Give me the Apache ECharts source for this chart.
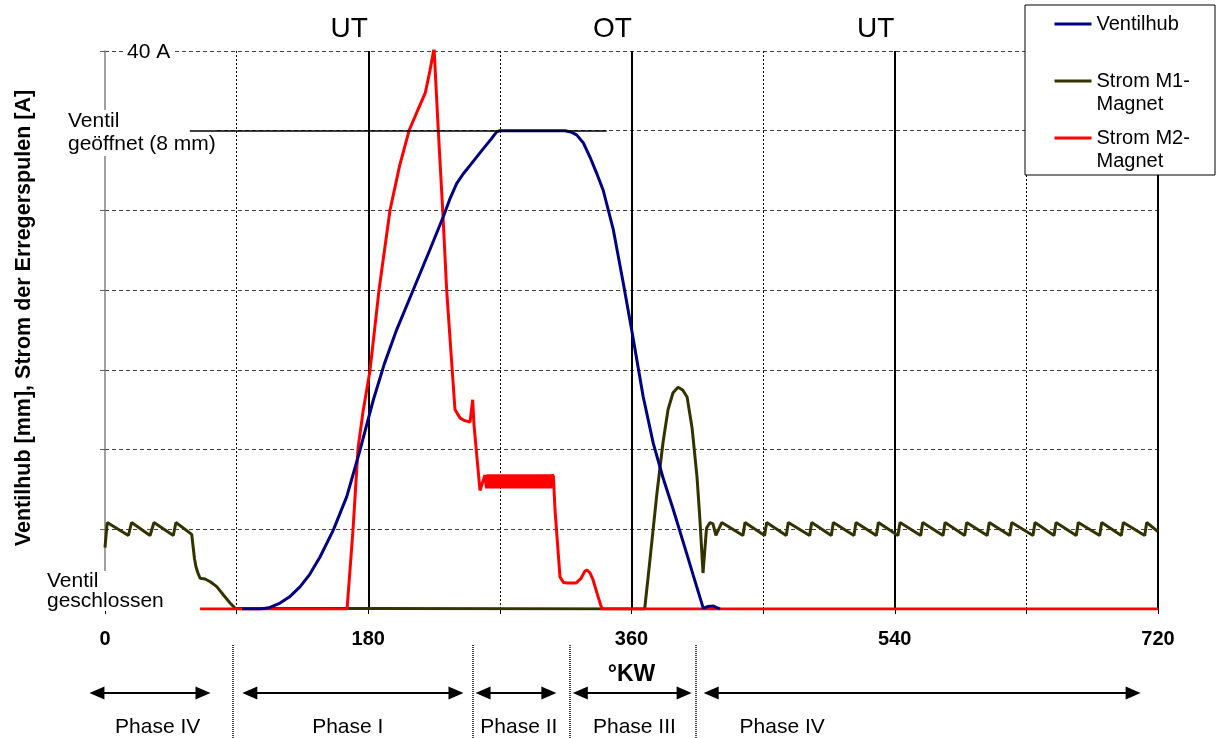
<!DOCTYPE html>
<html>
<head>
    <meta charset="utf-8">
    <title>Ventilhub und Spulenstrom</title>
    <script src="https://cdn.jsdelivr.net/npm/echarts@6/dist/echarts.min.js"></script>
</head>
<body style="margin:0">
<div id="main" style="width: 1224px;height:738px;"></div>
<script type="text/javascript">
    // Kurbelwinkel [°KW], Ventilhub [mm]
    var valveLift = [
        [93.7, 0], [106, 0], [112, 0.02], [119.7, 0.1], [126, 0.2], [133.3, 0.37], [140, 0.58],
        [147, 0.87], [156.1, 1.32], [165.3, 1.88], [174.4, 2.66], [183.5, 3.5], [191, 4.1],
        [199.4, 4.67], [210.8, 5.34], [222, 6.0], [231.3, 6.56], [236, 6.87], [240.5, 7.12],
        [245, 7.28], [249.6, 7.42], [258, 7.68], [264, 7.86], [267.8, 7.98], [270, 8], [314.5, 8],
        [318.5, 7.98], [322.5, 7.93], [327, 7.8], [331.6, 7.56], [336, 7.3], [340.7, 7.0],
        [347.6, 6.34], [354.4, 5.45], [360.1, 4.67], [368, 3.55], [374.9, 2.77], [381.5, 2.2],
        [388.6, 1.66], [397.7, 0.93], [403, 0.5], [409.1, 0.01], [412, 0.04], [416, 0.05], [420.5, 0]
    ];

    // Strom M1-Magnet [A]
    var currentM1 = [
        [0, 4.4], [1.5, 6.2], [16, 5.27], [18.2, 6.2], [30.8, 5.27], [33.5, 6.2], [46.7, 5.27],
        [48.5, 6.2], [59.3, 5.35], [61.2, 3.6], [62.2, 3.03], [63.5, 2.6], [65, 2.2], [68.4, 2.15],
        [72, 1.95], [76.4, 1.6], [81, 1.0], [85.5, 0.43], [89, 0.05], [90, 0], [369, 0],
        [372.6, 3.5], [377.4, 8.3], [381.5, 11.9], [385, 14.3], [388.4, 15.5], [391.8, 15.9],
        [395, 15.7], [398, 15.2], [401.4, 13.0], [404.8, 9.46], [406.8, 6.38], [408.9, 2.58],
        [411.3, 5.8], [413.7, 6.2], [415.7, 6.1], [417.7, 5.27], [421.7, 6.2], [436.2, 5.27],
        [437.6, 6.2], [451, 5.27], [452.4, 6.2], [465.8, 5.27], [467.2, 6.2], [481.8, 5.27],
        [483.2, 6.2], [496.6, 5.27], [498, 6.2], [512.1, 5.27], [513.5, 6.2], [527.4, 5.27],
        [528.8, 6.2], [542.2, 5.27], [543.6, 6.2], [557.7, 5.27], [559.1, 6.2], [573, 5.27],
        [574.4, 6.2], [587.8, 5.27], [589.2, 6.2], [603.2, 5.27], [604.6, 6.2], [618.6, 5.27],
        [620, 6.2], [634.5, 5.27], [635.9, 6.2], [648.9, 5.27], [650.3, 6.2], [664.1, 5.27],
        [665.5, 6.2], [680.1, 5.27], [681.5, 6.2], [694.9, 5.27], [696.3, 6.2], [710.9, 5.27],
        [712.3, 6.2], [720, 5.55]
    ];

    // Strom M2-Magnet [A]
    var currentM2 = [
        [65, 0], [165.5, 0], [169.6, 5.7], [173, 11.5], [176.5, 14.2], [181.2, 17.1], [187.4, 22.9],
        [194.9, 28.6], [201.5, 31.8], [207.9, 34.3], [214, 35.8], [219, 37.0], [222.2, 38.6],
        [225, 40.2], [227.9, 34.3], [230.9, 28.6], [233.6, 22.9], [237.1, 17.6], [239.3, 14.3],
        [242.7, 13.7], [246, 13.5], [249.6, 13.4], [250.7, 13.5], [251.4, 15.0], [252.3, 13.2],
        [256.4, 8.5], [259.8, 9.6],
        [260.8, 8.65], [261.8, 9.65], [262.8, 8.65], [263.8, 9.65], [264.8, 8.65], [265.8, 9.65],
        [266.8, 8.65], [267.8, 9.65], [268.8, 8.65], [269.8, 9.65], [270.8, 8.65], [271.8, 9.65],
        [272.8, 8.65], [273.8, 9.65], [274.8, 8.65], [275.8, 9.65], [276.8, 8.65], [277.8, 9.65],
        [278.8, 8.65], [279.8, 9.65], [280.8, 8.65], [281.8, 9.65], [282.8, 8.65], [283.8, 9.65],
        [284.8, 8.65], [285.8, 9.65], [286.8, 8.65], [287.8, 9.65], [288.8, 8.65], [289.8, 9.65],
        [290.8, 8.65], [291.8, 9.65], [292.8, 8.65], [293.8, 9.65], [294.8, 8.65], [295.8, 9.65],
        [296.8, 8.65], [297.8, 9.65], [298.8, 8.65], [299.8, 9.65], [300.8, 8.65], [301.8, 9.65],
        [302.8, 8.65], [303.8, 9.65], [304.8, 8.65], [305.8, 9.65],
        [306.6, 9.5], [307.7, 7.1], [311.1, 2.3], [313.5, 1.9], [316, 1.86], [322, 1.86],
        [325.5, 2.2], [328, 2.7], [329.6, 2.8], [331.5, 2.6], [333.7, 2.1], [336.5, 1.1],
        [339.8, 0], [720, 0]
    ];

    var bottomTicks = [0, 180, 360, 540, 720];
    var topTicks = [180, 360, 540];
    var topNames = ['UT', 'OT', 'UT'];

    var phaseNames = ['Phase IV', 'Phase I', 'Phase II', 'Phase III', 'Phase IV'];
    var phaseLabelX = [36, 166, 283, 362, 463];
    var phaseArrows = [[-5.5, 67], [99, 240], [258.5, 303.5], [325, 396], [414.5, 703]];
    var phaseBounds = [87.5, 251.6, 318, 404];

    var openLine = [58, 343];   // Ventil geöffnet (8 mm)

    var legendText = {
        'Ventilhub': ' \nVentilhub\n ',
        'Strom M1-Magnet': ' \nStrom M1-\nMagnet',
        'Strom M2-Magnet': ' \nStrom M2-\nMagnet'
    };

    var font = 'Liberation Sans, Arial, sans-serif';
    var myChart = echarts.init(document.getElementById('main'));

    myChart.setOption({
        animation: false,
        textStyle: { fontFamily: font, color: '#000' },
        grid: [
            { left: 105, right: 66, top: 51, height: 558, outerBoundsMode: 'none' },
            // Phasenleiste unten, gleiche Skala wie oben, beginnt bei -70 °KW
            { left: 2.625, right: 66, top: 640, height: 98, outerBoundsMode: 'none' }
        ],
        legend: {
            orient: 'vertical', left: 1053, top: -10.5, padding: 0, itemGap: -12,
            itemWidth: 37, itemHeight: 14, z: 11, selectedMode: false,
            itemStyle: { opacity: 0 },
            lineStyle: { width: 3 },
            data: ['Ventilhub', 'Strom M1-Magnet', 'Strom M2-Magnet'],
            formatter: function (name) { return legendText[name]; },
            textStyle: { fontSize: 20, lineHeight: 23, color: '#000' }
        },
        xAxis: [
            {
                type: 'value', gridIndex: 0, min: 0, max: 720, interval: 90, position: 'bottom',
                axisLine: { show: false },
                axisTick: { show: true, length: 5, lineStyle: { color: '#000' } },
                axisLabel: {
                    margin: 20, fontSize: 20, fontWeight: 'bold', color: '#000',
                    showMinLabel: true, showMaxLabel: true,
                    formatter: function (v) { return bottomTicks.indexOf(v) >= 0 ? String(v) : ''; }
                },
                splitLine: { show: true, showMinLine: false, lineStyle: { color: '#000', type: [2, 2], width: 1 } },
                name: '°KW', nameLocation: 'middle', nameGap: 54,
                nameTextStyle: { fontSize: 23, fontWeight: 'bold', color: '#000' }
            },
            {
                type: 'value', gridIndex: 0, min: 0, max: 720, interval: 180, position: 'top',
                axisLine: { show: false }, axisTick: { show: false },
                axisLabel: {
                    margin: 8, fontSize: 28, color: '#000', padding: [0, 38, 0, 0],
                    formatter: function (v) {
                        var i = topTicks.indexOf(v);
                        return i >= 0 ? topNames[i] : '';
                    }
                },
                splitLine: { show: true, showMinLine: false, lineStyle: { color: '#000', width: 2 } }
            },
            { type: 'value', gridIndex: 1, min: -70, max: 720, show: false }
        ],
        yAxis: [
            {
                type: 'value', gridIndex: 0, min: 0, max: 7, interval: 1,
                axisLine: { show: true, lineStyle: { color: '#808080', width: 1.5 } },
                axisTick: { show: true, length: 5, lineStyle: { color: '#606060' } },
                axisLabel: { show: false },
                splitLine: { show: true, showMinLine: false, lineStyle: { color: '#404040', type: [4, 3] } },
                name: 'Ventilhub [mm], Strom der Erregerspulen [A]',
                nameLocation: 'middle', nameGap: 70,
                nameTextStyle: { fontSize: 21.5, fontWeight: 'bold', color: '#000', padding: [0, 0, 0, 24] }
            },
            { type: 'value', gridIndex: 0, min: 0, max: 40, show: false },
            { type: 'value', gridIndex: 0, min: 0, max: 8 * 7 / 6, show: false },
            { type: 'value', gridIndex: 1, min: 0, max: 1, show: false }
        ],
        graphic: [
            {
                type: 'rect', x: 1025, y: 5, z: 10,
                shape: { width: 190, height: 170 },
                style: { fill: '#fff', stroke: '#000', lineWidth: 1 }
            },
            {
                type: 'text', x: 123, y: 52, z: 1,
                style: {
                    text: '40 A', fontSize: 21, fontFamily: font, fill: '#000',
                    verticalAlign: 'middle', backgroundColor: '#fff', padding: [2, 4]
                }
            },
            {
                type: 'text', x: 68, y: 110, z: 1,
                style: {
                    text: 'Ventil\ngeöffnet (8 mm)', fontSize: 21, fontFamily: font, fill: '#000',
                    lineHeight: 23, verticalAlign: 'top', backgroundColor: '#fff'
                }
            },
            {
                type: 'text', x: 47, y: 571, z: 1,
                style: {
                    text: 'Ventil\ngeschlossen', fontSize: 21, fontFamily: font, fill: '#000',
                    lineHeight: 20, verticalAlign: 'top', backgroundColor: '#fff'
                }
            }
        ],
        series: [
            {
                name: 'Strom M1-Magnet', type: 'line', xAxisIndex: 0, yAxisIndex: 1,
                symbol: 'none', color: '#333300', lineStyle: { width: 3 },
                data: currentM1
            },
            {
                name: 'Strom M2-Magnet', type: 'line', xAxisIndex: 0, yAxisIndex: 1,
                symbol: 'none', color: '#ff0000', lineStyle: { width: 3 },
                data: currentM2
            },
            {
                name: 'Ventilhub', type: 'line', xAxisIndex: 0, yAxisIndex: 2,
                symbol: 'none', color: '#000080', lineStyle: { width: 3 },
                data: valveLift,
                markLine: {
                    silent: true, symbol: 'none', label: { show: false },
                    lineStyle: { color: '#000', width: 1.5, type: 'solid' },
                    data: [[{ coord: [openLine[0], 8] }, { coord: [openLine[1], 8] }]]
                }
            },
            {
                type: 'scatter', xAxisIndex: 2, yAxisIndex: 3, symbolSize: 1, silent: true, clip: false,
                itemStyle: { color: '#fff', opacity: 1 },
                data: phaseNames.map(function (n, i) { return { name: n, value: [phaseLabelX[i], 0.11] }; }),
                label: {
                    show: true, position: 'inside', formatter: '{b}', fontSize: 21,
                    color: '#000', textBorderWidth: 0, opacity: 1
                },
                markLine: {
                    silent: true, symbol: ['triangle', 'triangle'], symbolSize: [13, 15],
                    label: { show: false },
                    lineStyle: { color: '#000', width: 2, type: 'solid' },
                    data: phaseArrows.map(function (a) { return [{ coord: [a[0], 0.46] }, { coord: [a[1], 0.46] }]; })
                }
            },
            {
                type: 'line', xAxisIndex: 2, yAxisIndex: 3, data: [], silent: true, clip: false,
                markLine: {
                    silent: true, symbol: 'none', label: { show: false },
                    lineStyle: { color: '#000', width: 1.5, type: [1, 1] },
                    data: phaseBounds.map(function (b) { return [{ coord: [b, 0] }, { coord: [b, 0.95] }]; })
                }
            }
        ]
    });
</script>
</body>
</html>
